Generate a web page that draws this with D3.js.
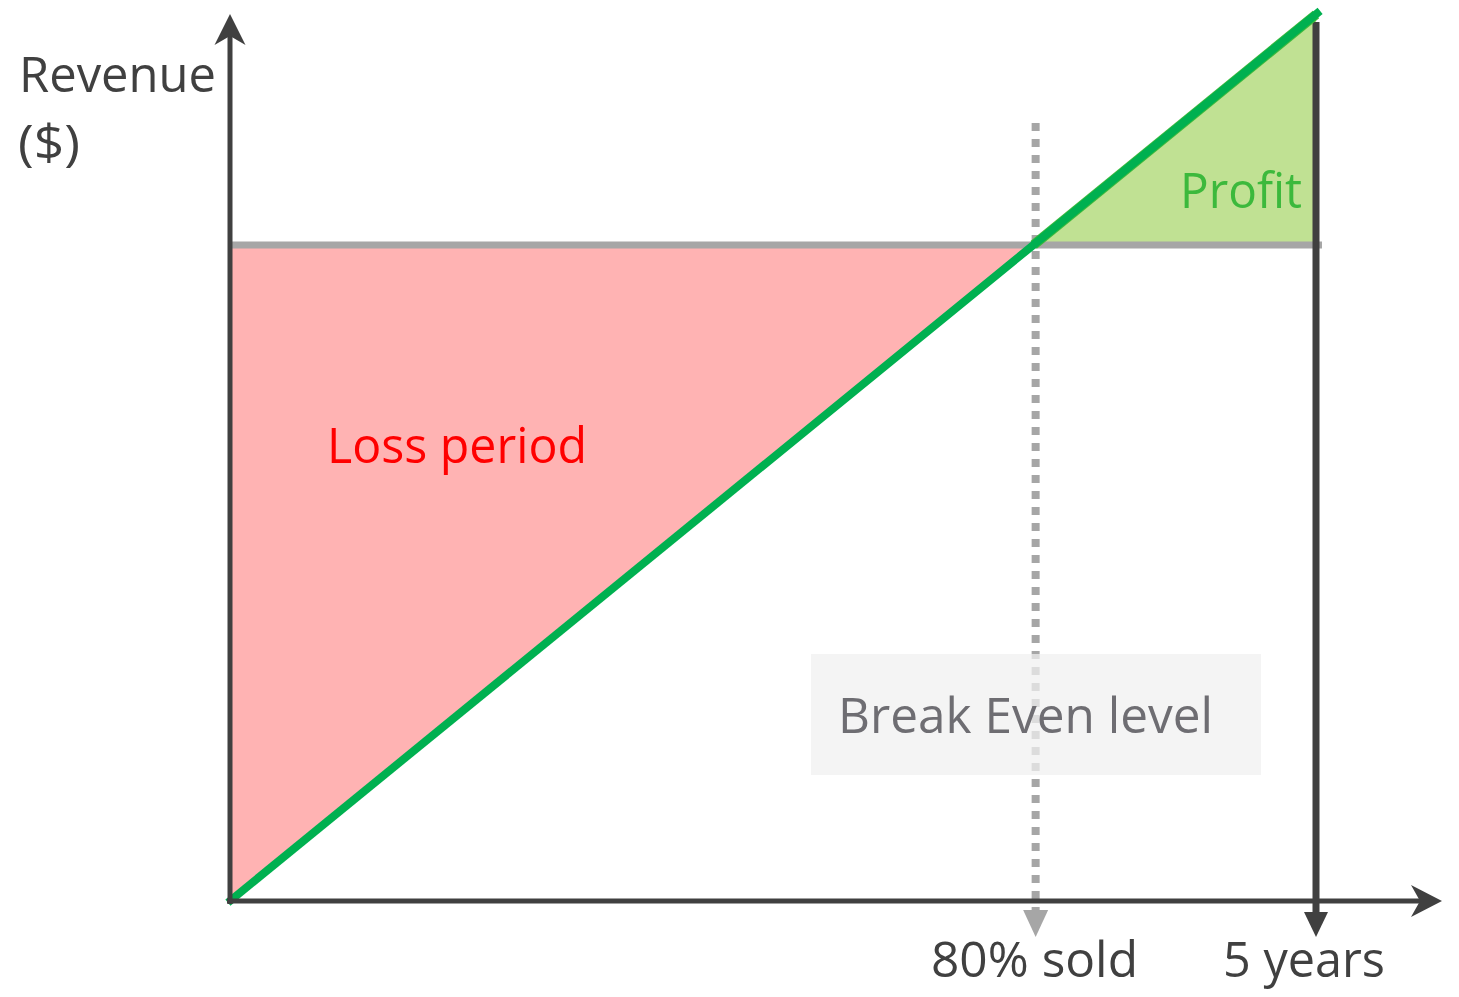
<!DOCTYPE html>
<html>
<head>
<meta charset="utf-8">
<script src="https://cdn.jsdelivr.net/npm/d3@7"></script>
<style>
  html, body { margin: 0; padding: 0; background: #ffffff; }
  svg { display: block; }
  text { font-family: "Open Sans", "Lato", sans-serif; }
</style>
</head>
<body>
<svg id="chart" width="1459" height="997"></svg>
<script>
// ---- data ----
const periodYears = [0, 5];          // time span (years)
const revenueValues = [0, 1000];     // cumulative revenue at start / end
const costLevel = 740;               // break-even (fixed cost) level
const yAxisTitle = ["Revenue", "($)"];
const xTickLabels = ["80% sold", "5 years"];
const areaLabels = ["Loss period", "Profit"];
const calloutLabel = "Break Even level";

// ---- scales ----
const svg = d3.select("#chart");
const x = d3.scaleLinear().domain(periodYears).range([230, 1316]);
const y = d3.scaleLinear().domain([0, 1000]).range([901, 14.5]);

const revenueAt = d3.scaleLinear().domain(periodYears).range(revenueValues);
const breakEvenT = revenueAt.invert(costLevel);
const t0 = periodYears[0], t1 = periodYears[1];

const axisColor = "#404040";
const grey = "#a6a6a6";

// ---- filled areas ----
const poly = d3.line().x(d => x(d[0])).y(d => y(d[1]));
svg.append("path")
  .attr("d", poly([[t0, costLevel], [breakEvenT, costLevel], [t0, revenueAt(t0)]]) + "Z")
  .attr("fill", "#ffb3b3");
svg.append("path")
  .attr("d", poly([[breakEvenT, costLevel], [t1, costLevel], [t1, revenueAt(t1)]]) + "Z")
  .attr("fill", "#c0e193");

// ---- break-even (cost) level line ----
svg.append("line")
  .attr("x1", x(t0)).attr("x2", x(t1) + 6)
  .attr("y1", y(costLevel)).attr("y2", y(costLevel))
  .attr("stroke", grey).attr("stroke-width", 7);

// ---- dotted break-even marker ----
const bx = x(breakEvenT) + 2;
svg.append("line")
  .attr("x1", bx).attr("x2", bx)
  .attr("y1", 123).attr("y2", 910)
  .attr("stroke", grey).attr("stroke-width", 8)
  .attr("stroke-dasharray", "8,8");
svg.append("path")
  .attr("d", `M${bx - 12.5},910 L${bx + 12.5},910 L${bx},937 Z`)
  .attr("fill", grey);

// ---- 5-year vertical marker ----
const vx = x(t1);
svg.append("line")
  .attr("x1", vx).attr("x2", vx)
  .attr("y1", 22).attr("y2", 915)
  .attr("stroke", axisColor).attr("stroke-width", 7);
svg.append("path")
  .attr("d", `M${vx - 12},912 L${vx + 12},912 L${vx},937 Z`)
  .attr("fill", axisColor);

// ---- revenue line ----
svg.append("path")
  .attr("d", poly([[breakEvenT, costLevel], [t1, revenueAt(t1)]]))
  .attr("stroke", "#3cb93c").attr("stroke-width", 10).attr("fill", "none");
svg.append("path")
  .attr("d", poly(periodYears.map((t, i) => [t, revenueValues[i]])))
  .attr("stroke", "#00b050").attr("stroke-width", 8)
  .attr("stroke-linecap", "square").attr("fill", "none")
  .attr("transform", "translate(1,-1)");

// ---- axes ----
const ox = x(t0), oy = y(0);
svg.append("line")
  .attr("x1", ox).attr("x2", ox).attr("y1", oy + 3).attr("y2", 30)
  .attr("stroke", axisColor).attr("stroke-width", 5);
svg.append("path")
  .attr("d", `M${ox},14 L${ox + 15.5},45 L${ox},36 L${ox - 15.5},45 Z`)
  .attr("fill", axisColor);
svg.append("line")
  .attr("x1", ox - 3).attr("x2", 1430).attr("y1", oy).attr("y2", oy)
  .attr("stroke", axisColor).attr("stroke-width", 5);
svg.append("path")
  .attr("d", `M1442,${oy} L1411,${oy - 16} L1420,${oy} L1411,${oy + 16} Z`)
  .attr("fill", axisColor);

// ---- callout box ----
svg.append("rect")
  .attr("x", 811).attr("y", 654).attr("width", 450).attr("height", 121)
  .attr("fill", "#f0f0f0").attr("fill-opacity", 0.73);

// ---- text ----
function label(str, xx, yy, w, color) {
  svg.append("text")
    .attr("x", xx).attr("y", yy)
    .attr("font-size", 50)
    .attr("fill", color)
    .attr("textLength", w)
    .attr("lengthAdjust", "spacingAndGlyphs")
    .text(str);
}
label(yAxisTitle[0], 19, 92, 197, axisColor);
label(yAxisTitle[1], 18, 160, 62, axisColor);
label(areaLabels[0], 327, 463, 260, "#ff0000");
label(areaLabels[1], 1180, 208, 122, "#3cb93c");
label(calloutLabel, 838, 733, 375, "#6e6d72");
label(xTickLabels[0], 931, 977, 207, axisColor);
label(xTickLabels[1], 1223, 977, 162, axisColor);
</script>
</body>
</html>
